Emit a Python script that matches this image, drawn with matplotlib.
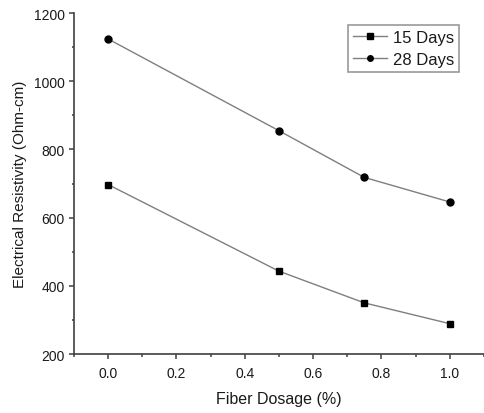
import matplotlib
matplotlib.use("Agg")
import matplotlib.pyplot as plt
from matplotlib.ticker import MultipleLocator

plt.rcParams['font.family'] = ['Liberation Sans', 'DejaVu Sans']

dosage = [0.0, 0.5, 0.75, 1.0]
days15 = [697, 443, 350, 289]
days28 = [1124, 855, 718, 646]

fig = plt.figure(figsize=(4.85, 4.14), dpi=100)
ax = fig.add_axes([0.1526, 0.1425, 0.845, 0.8235])

ax.plot(dosage, days15, color='#7f7f7f', lw=1.0, marker='s', ms=5,
        mfc='black', mec='black', label='15 Days')
ax.plot(dosage, days28, color='#7f7f7f', lw=1.0, marker='o', ms=5,
        mfc='black', mec='black', label='28 Days')

ax.set_xlim(-0.1, 1.1)
ax.set_ylim(200, 1200)
ax.xaxis.set_minor_locator(MultipleLocator(0.1))
ax.yaxis.set_major_locator(MultipleLocator(200))
ax.yaxis.set_minor_locator(MultipleLocator(100))
ax.set_xticks([0.0, 0.2, 0.4, 0.6, 0.8, 1.0])
ax.set_xticklabels(['0.0', '0.2', '0.4', '0.6', '0.8', '1.0'])

for s in ['top', 'right']:
    ax.spines[s].set_visible(False)
for s in ['left', 'bottom']:
    ax.spines[s].set_linewidth(1.2)
    ax.spines[s].set_color('#404040')

ax.tick_params(which='major', direction='out', length=3.6, width=1.1, labelsize=10,
               colors='#404040', labelcolor='#1a1a1a')
ax.tick_params(axis='x', which='major', pad=5)
ax.tick_params(axis='y', which='major', pad=3)
ax.tick_params(which='minor', direction='out', length=1.8, width=1.1, colors='#404040')

ax.set_xlabel('Fiber Dosage (%)', fontsize=11.5, labelpad=8, color='#1a1a1a')
ax.set_ylabel('Electrical Resistivity (Ohm-cm)', fontsize=11, labelpad=5, color='#1a1a1a')

leg = ax.legend(loc='upper right', bbox_to_anchor=(0.939, 0.966), fontsize=12,
                frameon=True, fancybox=False, edgecolor='#808080',
                handlelength=2.0, handletextpad=0.35, borderpad=0.3,
                labelspacing=0.45, markerscale=0.8, borderaxespad=0)
leg.get_frame().set_linewidth(1.2)
for t in leg.get_texts():
    t.set_color('#1a1a1a')

fig.savefig('out.png', dpi=100)
